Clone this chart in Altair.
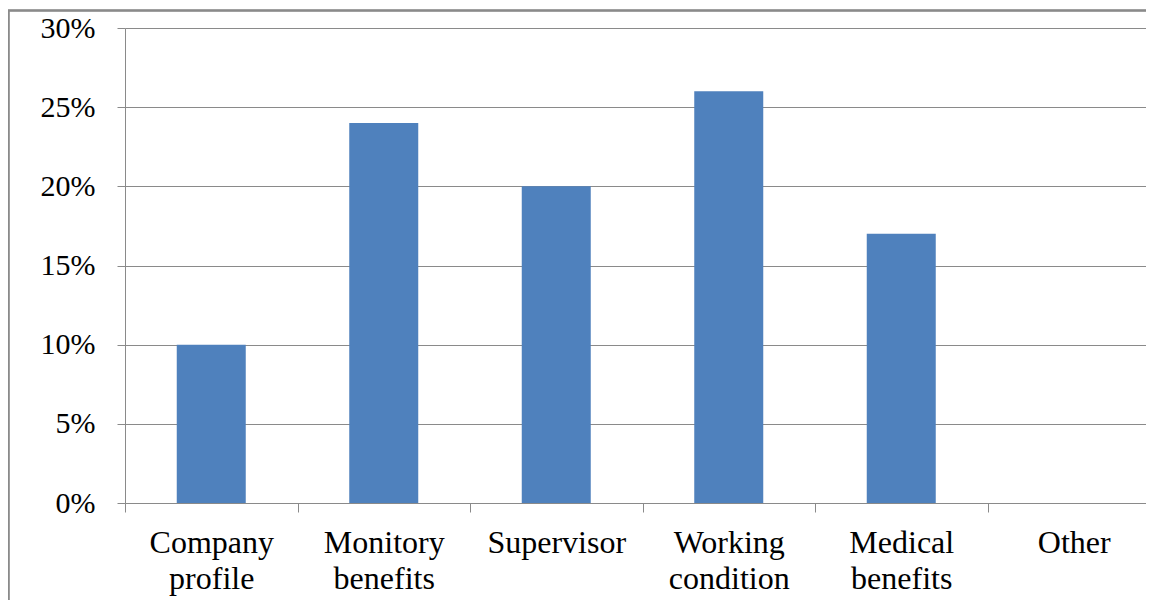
import altair as alt
import pandas as pd

categories = ["Company|profile", "Monitory|benefits", "Supervisor", "Working|condition", "Medical|benefits", "Other"]
values = [0.10, 0.24, 0.20, 0.26, 0.17, 0.0]
y_ticks = [0, 0.05, 0.10, 0.15, 0.20, 0.25, 0.30]

df = pd.DataFrame({"cat": categories, "val": values})

GRAY = "#8a8a8a"
FONT = "Liberation Serif"

bars = alt.Chart(df).mark_bar(color="#4F81BD", width=alt.RelativeBandSize(0.4)).encode(
    x=alt.X("cat:N", sort=categories, title=None,
            scale=alt.Scale(paddingInner=0, paddingOuter=0, range=[0, 1035]),
            axis=alt.Axis(labelExpr="split(datum.label, '|')", labelAngle=0,
                          tickBand="extent", tickSize=9, tickColor=GRAY, domainColor=GRAY,
                          labelFontSize=32, labelColor="black",
                          labelLineHeight=36, labelPadding=15, labelBaseline="top")),
    y=alt.Y("val:Q", title=None,
            scale=alt.Scale(domain=[0, 0.3], nice=False),
            axis=alt.Axis(values=y_ticks, format=".0%", tickSize=8, tickColor=GRAY,
                          domainColor=GRAY, gridColor=GRAY, grid=True,
                          labelFontSize=30, labelColor="black",
                          labelPadding=22)),
)

frame_left = alt.Chart(df).mark_rule(stroke=GRAY, strokeWidth=1.5, clip=False).encode(
    x=alt.value(-116.5), y=alt.value(-17.5), y2=alt.value(575)
)
frame_top = alt.Chart(df).mark_rule(stroke=GRAY, strokeWidth=1.5, clip=False).encode(
    x=alt.value(-117), x2=alt.value(1021), y=alt.value(-17.5)
)

chart = alt.layer(bars, frame_left, frame_top).properties(
    width=1021, height=475,
    autosize=alt.AutoSizeParams(type="none"),
    padding={"left": 117, "top": 20, "right": 0, "bottom": 97},
).configure(font=FONT).configure_view(stroke=None).configure_axis(
    domainWidth=1, tickWidth=1, gridWidth=1, labelFont=FONT)

chart.save("out.html", embed_options={"renderer": "svg", "actions": False})
